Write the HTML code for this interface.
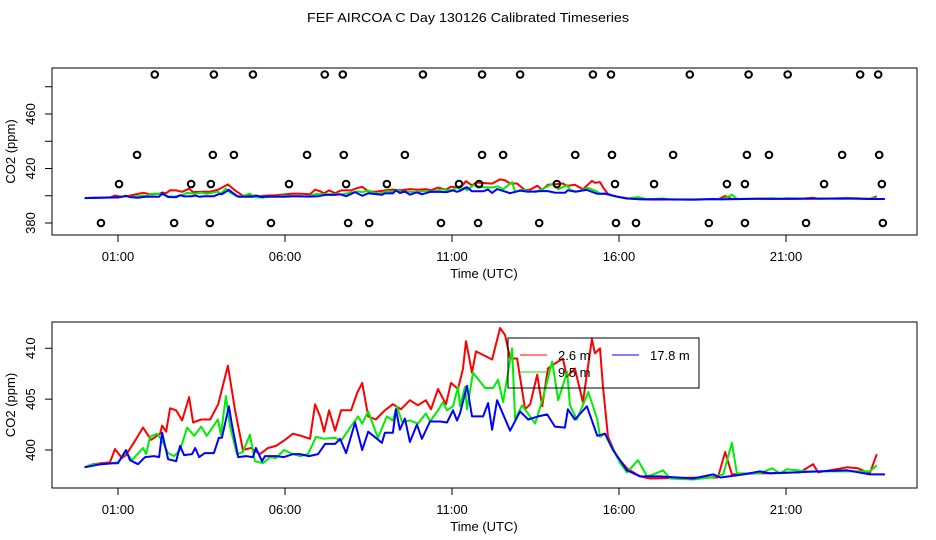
<!DOCTYPE html>
<html><head><meta charset="utf-8"><style>
html,body{margin:0;padding:0;background:#fff}
svg{display:block;font-family:"Liberation Sans",sans-serif}
</style></head><body>
<svg id="c" width="936" height="540" viewBox="0 0 936 540">
<text x="468" y="22" text-anchor="middle" font-size="13" textLength="322" lengthAdjust="spacingAndGlyphs">FEF AIRCOA C  Day 130126  Calibrated Timeseries</text>
</svg>
<script>
const xTicks=[1,6,11,16,21];
const xTickLabels=["01:00","06:00","11:00","16:00","21:00"];
const topYTicks=[380,400,420,440,460,480];
const topYLabels=[380,420,460];
const botYTicks=[400,405,410];
const redT=[0,0.25,0.49,0.76,0.91,1.12,1.24,1.51,1.75,1.99,2.26,2.32,2.44,2.56,2.74,2.92,3.13,3.25,3.49,3.76,4.0,4.29,4.5,4.74,4.98,5.25,5.49,5.73,6.0,6.24,6.48,6.75,6.9,7.05,7.17,7.32,7.5,7.68,7.98,8.16,8.31,8.49,8.72,8.99,9.23,9.47,9.74,9.98,10.22,10.37,10.58,10.82,10.97,11.18,11.33,11.42,11.6,11.72,12.2,12.44,12.59,12.74,12.95,13.19,13.34,13.55,13.7,13.87,14.08,14.32,14.44,14.68,14.92,15.19,15.28,15.43,15.52,15.67,15.94,16.24,16.63,16.93,18.43,18.96,19.18,19.38,20.2,21.42,21.81,21.96,22.83,23.15,23.51,23.72];
const redV=[398.3,398.6,398.7,398.8,400.1,399.2,399.5,400.9,402.2,401.0,401.6,402.4,401.8,404.1,403.9,402.9,405.2,402.7,403.0,403.0,404.5,408.3,404.0,400.0,400.2,399.6,400.2,400.4,401.0,401.6,401.4,401.1,404.5,403.3,401.8,403.9,401.9,403.9,403.9,405.6,406.6,403.3,403.0,403.9,404.5,404.0,404.9,404.4,404.9,404.0,406.0,404.5,406.6,406.0,408.0,410.7,407.6,409.7,408.9,412.0,411.3,409.0,409.0,404.0,404.5,407.4,404.3,408.0,408.5,409.0,407.2,408.0,404.7,410.9,409.5,410.0,406.2,401.3,399.3,398.2,397.4,397.2,397.3,397.3,399.8,397.6,397.7,397.8,398.6,397.8,398.3,398.2,397.7,399.6];
const greenT=[0,0.25,0.49,0.76,1.0,1.24,1.42,1.75,1.84,1.96,2.17,2.32,2.5,2.68,2.86,3.07,3.28,3.49,3.66,3.99,4.08,4.23,4.35,4.56,4.74,4.95,5.1,5.34,5.55,5.73,5.97,6.24,6.45,6.69,6.93,7.17,7.5,7.68,7.95,8.19,8.31,8.49,8.78,9.05,9.23,9.35,9.5,9.74,9.98,10.22,10.34,10.58,10.73,10.85,11.03,11.18,11.24,11.39,11.45,11.63,11.99,12.23,12.38,12.53,12.8,12.89,13.1,13.49,13.73,14.0,14.18,14.45,14.53,14.74,15.08,15.35,15.43,15.58,15.73,16.04,16.24,16.57,16.84,17.02,17.32,17.53,18.22,18.73,19.12,19.38,19.53,20.22,20.58,20.82,21.03,21.63,23.51,23.72];
const greenV=[398.3,398.6,398.6,398.7,398.8,399.8,399.0,400.2,399.6,401.3,401.6,400.9,399.7,399.4,400.0,402.2,401.4,402.3,401.4,403.0,401.5,405.3,402.4,399.6,399.8,401.5,398.9,398.7,399.3,399.2,400.0,399.6,399.4,399.6,401.3,401.1,401.2,400.9,402.2,403.3,402.6,403.8,401.2,403.3,402.9,404.3,402.8,402.9,402.6,403.6,402.8,403.9,404.7,403.9,404.3,406.2,404.3,406.2,404.0,407.6,406.1,406.1,406.9,404.7,410.0,403.0,404.4,402.6,405.2,408.7,404.9,407.7,404.4,403.0,405.7,403.0,401.3,401.6,400.7,398.7,397.8,399.0,397.4,397.6,398.0,397.2,397.1,397.3,397.6,400.7,397.7,397.7,398.2,397.7,398.1,397.9,397.9,398.5];
const blueT=[0,0.49,0.85,1.0,1.24,1.36,1.6,1.81,2.08,2.23,2.32,2.5,2.74,2.86,2.98,3.22,3.31,3.43,3.6,3.87,4.02,4.11,4.32,4.41,4.6,4.83,5.04,5.13,5.31,5.4,5.73,5.97,6.24,6.45,6.72,6.99,7.2,7.5,7.65,7.83,8.1,8.31,8.49,8.72,8.9,8.99,9.23,9.32,9.44,9.59,9.74,9.95,10.1,10.34,10.64,10.85,11.03,11.15,11.24,11.45,11.6,11.93,12.08,12.2,12.35,12.74,13.04,13.28,13.58,13.85,14.08,14.38,14.47,14.68,15.04,15.35,15.58,15.82,16.24,16.63,17.23,18.22,18.82,19.04,19.73,20.22,20.52,22.83,23.51,23.96];
const blueV=[398.3,398.6,398.7,398.7,400.0,399.0,398.6,399.3,399.4,399.3,401.7,399.1,398.9,400.4,399.5,399.6,400.2,399.3,399.7,399.7,401.2,401.2,404.3,402.5,399.3,399.4,399.3,400.2,398.9,399.4,399.4,399.3,399.6,399.6,399.4,399.6,400.6,400.6,401.1,399.7,402.7,400.0,401.8,401.2,400.7,401.7,401.7,404.0,402.0,403.1,400.8,402.5,401.1,402.8,402.8,402.7,403.9,402.9,403.6,406.3,403.3,403.3,404.6,402.0,404.9,401.9,403.8,403.0,403.3,403.5,402.3,402.2,404.0,403.0,404.3,401.4,401.6,400.0,398.0,397.4,397.4,397.2,397.6,397.3,397.6,397.9,397.7,398.0,397.6,397.6];
const circleT=[2.1,3.87,5.04,7.19,7.73,10.13,11.9,13.04,15.22,15.76,18.12,19.88,21.05,23.22,23.76,
1.57,3.84,4.47,6.66,7.76,9.59,11.9,12.53,14.69,15.79,17.62,19.83,20.49,22.68,23.79,
1.03,3.19,3.78,6.12,7.83,9.05,11.21,11.81,14.14,15.88,17.05,19.23,19.77,22.14,23.87,
0.49,2.68,3.75,5.58,7.89,8.52,10.67,11.78,13.61,15.91,16.51,18.69,19.77,21.6,23.9];
const circleV=[489,489,489,489,489,489,489,489,489,489,489,489,489,489,489,
430,430,430,430,430,430,430,430,430,430,430,430,430,430,430,
408.6,408.6,408.6,408.6,408.6,408.6,408.6,408.6,408.6,408.6,408.6,408.6,408.6,408.6,408.6,
380,380,380,380,380,380,380,380,380,380,380,380,380,380,380];

const NS="http://www.w3.org/2000/svg";
const svg=document.getElementById('c');
function mk(tag,attrs,parent){const e=document.createElementNS(NS,tag);for(const k in attrs)e.setAttribute(k,attrs[k]);(parent||svg).appendChild(e);return e;}
const xs=h=>84.6+33.4*h;
const L=52,R=917;
function panel(name,top,bot,yScale,yTicks,yLabels,pre){
  const g=mk('g',{});
  
  
  const box=mk('rect',{x:L,y:top,width:R-L,height:bot-top,fill:'none',stroke:'#000','stroke-width':1},g);
  
  
  xTicks.forEach((t,i)=>{
    const x=xs(t);
    const tk=mk('line',{x1:x,x2:x,y1:bot,y2:bot+7,stroke:'#000'},g);
    
    
    const tl=mk('text',{x:x,y:bot+26,'text-anchor':'middle','font-size':13},g);
    tl.textContent=xTickLabels[i];
    
    
  });
  yTicks.forEach(v=>{
    const y=yScale(v);
    const tk=mk('line',{x1:L-7,x2:L,y1:y,y2:y,stroke:'#000'},g);
    
    
  });
  yLabels.forEach(v=>{
    const y=yScale(v);
    const tl=mk('text',{x:0,y:0,'text-anchor':'middle','font-size':13,transform:`translate(35,${y}) rotate(-90)`},g);
    tl.textContent=v;
    
    
  });
  const xt=mk('text',{x:484,y:bot+43,'text-anchor':'middle','font-size':13},g);
  xt.textContent='Time (UTC)';
  
  
  const yt=mk('text',{x:0,y:0,'text-anchor':'middle','font-size':13,transform:`translate(15,${(top+bot)/2}) rotate(-90)`},g);
  yt.textContent='CO2 (ppm)';
  
  
  const series=[[redT,redV,'#ff0000','red'],[greenT,greenV,'#00ee00','green'],[blueT,blueV,'#0000ff','blue']];
  series.forEach(([T,V,c,n])=>{
    const d=T.map((t,i)=>(i?'L':'M')+xs(t).toFixed(1)+','+yScale(V[i]).toFixed(1)).join('');
    const p=mk('path',{d:d,fill:'none',stroke:c,'stroke-width':2,'stroke-linejoin':'round'},g);
    
    
  });
  return g;
}
const topY=v=>223-(v-380)*1.3625;
const botY=v=>450-(v-400)*10.17;
const gTop=panel('top-panel',68,235,topY,topYTicks,topYLabels,'top-');
circleT.forEach((t,i)=>{
  const c=mk('circle',{cx:xs(t),cy:topY(circleV[i]),r:3.3,fill:'none',stroke:'#000','stroke-width':2},gTop);
  
  
});
const gBot=panel('bottom-panel',322,488,botY,botYTicks,botYTicks,'bottom-');
const lg=mk('g',{});


const lb=mk('rect',{x:508,y:338,width:191,height:50,fill:'none',stroke:'#000'},lg);


const entries=[['2.6 m','#ff0000',520,558,355],['17.8 m','#0000ff',612,650,355],['9.5 m','#00ee00',520,558,372]];
entries.forEach(([lab,c,lx,tx,y])=>{
  const ln=mk('line',{x1:lx,x2:lx+27,y1:y,y2:y,stroke:c,'stroke-width':1},lg);
  
  
  const t=mk('text',{x:tx,y:y+5,'font-size':13},lg);
  t.textContent=lab;
  
  
});
</script>
</body></html>
